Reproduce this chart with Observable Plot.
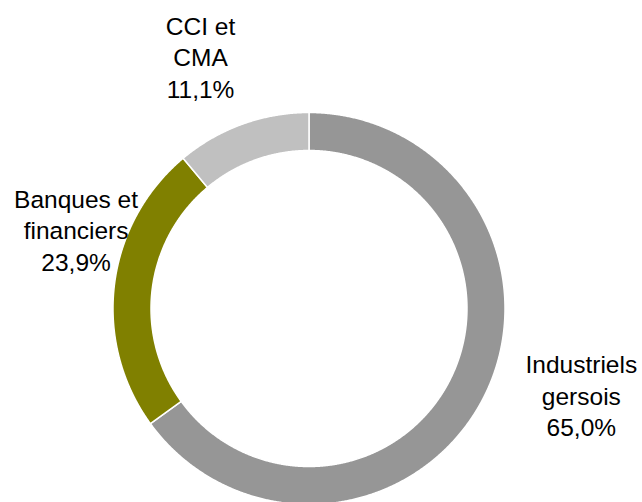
<!DOCTYPE html>
<html><head><meta charset="utf-8">
<script src="https://cdn.jsdelivr.net/npm/d3@7"></script>
<script src="https://cdn.jsdelivr.net/npm/@observablehq/plot@0.6"></script>
<style>html,body{margin:0;padding:0;background:#fff;overflow:hidden}</style>
</head><body><div id="chart"></div>
<script>
// Data
const categories = ["Industriels gersois", "Banques et financiers", "CCI et CMA"];
const labelLines = ["Industriels\ngersois", "Banques et\nfinanciers", "CCI et\nCMA"];
const values = [65.0, 23.9, 11.1];
const colors = ["#969696", "#808000", "#C0C0C0"];

// Layout (pixels): label offsets from slice mid-point on the outer edge
const labelOffsets = [[97.7, -3.1], [-38.4, -55.2], [-41.5, -68.3]];
const innerRatio = 158 / 196;

const rows = categories.map((c, i) => ({category: c, value: values[i],
  label: labelLines[i] + "\n" + values[i].toFixed(1).replace(".", ",") + "%"}));
const arcs = d3.pie().sort(null).value(d => d.value)(rows);

// ring polygons
const pts = [];
arcs.forEach(a => {
  const n = Math.max(2, Math.ceil((a.endAngle - a.startAngle) / 0.005));
  for (let k = 0; k <= n; k++) {
    const t = a.startAngle + (a.endAngle - a.startAngle) * k / n;
    pts.push({category: a.data.category, u: Math.sin(t), v: Math.cos(t)});
  }
  for (let k = n; k >= 0; k--) {
    const t = a.startAngle + (a.endAngle - a.startAngle) * k / n;
    pts.push({category: a.data.category, u: innerRatio * Math.sin(t), v: innerRatio * Math.cos(t)});
  }
});
const labels = arcs.map((a, i) => {
  const m = (a.startAngle + a.endAngle) / 2;
  return {label: a.data.label, u: Math.sin(m), v: Math.cos(m), i};
});

const textOpts = {fontSize: 24.5, fontFamily: "'Liberation Sans', Arial, sans-serif",
  lineHeight: 1.29, textAnchor: "middle", fill: "#000"};

const chart = Plot.plot({
  width: 642, height: 502,
  margin: 0,
  x: {domain: [-1, 1], range: [112.5, 504.5], axis: null},
  y: {domain: [-1, 1], range: [504, 112], axis: null},
  color: {domain: categories, range: colors},
  style: {background: "#fff", overflow: "visible"},
  marks: [
    Plot.line(pts, {x: "u", y: "v", z: "category", fill: "category",
      stroke: "#fff", strokeWidth: 1.5, curve: "linear-closed"}),
    ...labels.map((l, i) => Plot.text([l], {x: "u", y: "v", text: "label",
      dx: labelOffsets[i][0], dy: labelOffsets[i][1], ...textOpts}))
  ]
});
document.getElementById("chart").appendChild(chart);
</script>
</body></html>
